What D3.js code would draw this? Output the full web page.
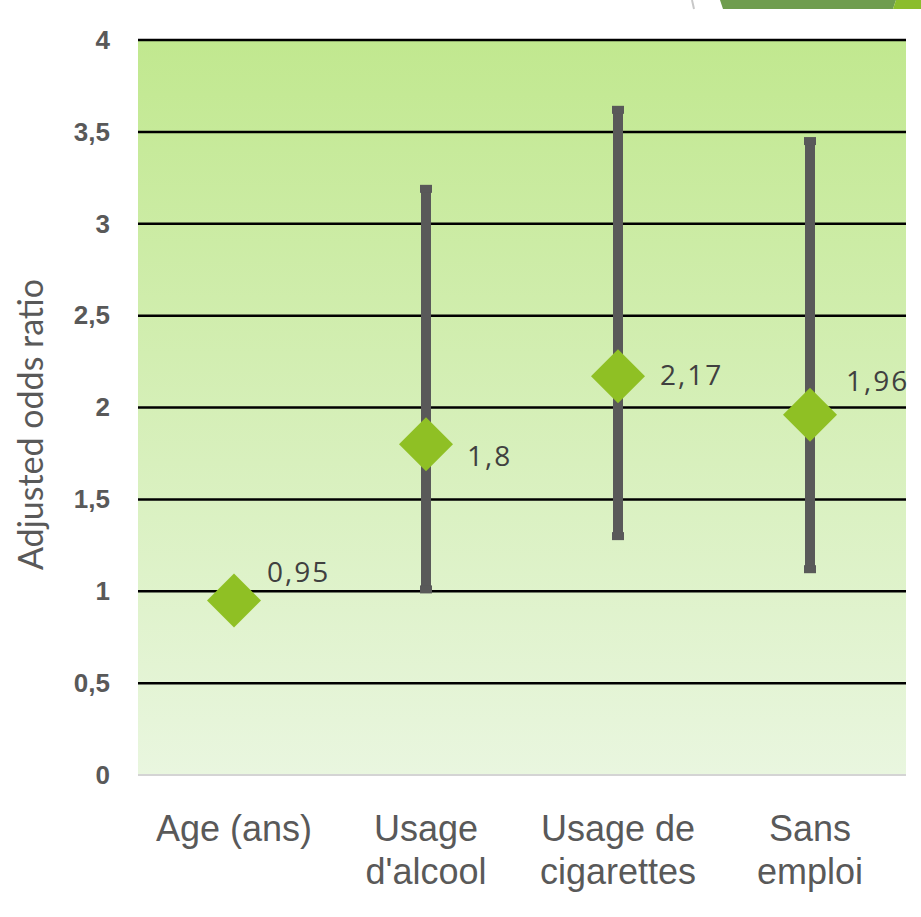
<!DOCTYPE html>
<html>
<head>
<meta charset="utf-8">
<script src="https://cdn.jsdelivr.net/npm/d3@7"></script>
<style>
  body { margin: 0; background: #fff; }
  svg { display: block; }
</style>
</head>
<body>
<div id="chart"></div>
<script>
// data
const categories = [["Age (ans)"], ["Usage", "d'alcool"], ["Usage de", "cigarettes"], ["Sans", "emploi"]];
const oddsRatios = [0.95, 1.8, 2.17, 1.96];
const ciLow = [null, 1.01, 1.30, 1.12];
const ciHigh = [null, 3.19, 3.62, 3.45];
const pointLabels = ["0,95", "1,8", "2,17", "1,96"];
const yTicks = [0, 0.5, 1, 1.5, 2, 2.5, 3, 3.5, 4];

// label offsets (x, baseline) from the point, placed by hand in the original
const labelOffsets = [[33, -18], [41, 22], [42, 9], [36, -24]];

const W = 921, H = 917;
const margin = { top: 40, right: 15, bottom: 142, left: 138 };
const width = W - margin.left - margin.right;
const height = H - margin.top - margin.bottom;

const svg = d3.select("#chart").append("svg")
  .attr("width", W)
  .attr("height", H);

// slide decoration in the top right corner
svg.append("line")
  .attr("x1", 692).attr("y1", 0).attr("x2", 694).attr("y2", 9)
  .attr("stroke", "#c8c8c8").attr("stroke-width", 2);
svg.append("polygon")
  .attr("points", "720,0 896,0 893,9 723,9")
  .attr("fill", "#6f9d4e");
svg.append("polygon")
  .attr("points", "896,0 921,0 921,9 893,9")
  .attr("fill", "#8bbd2c");

const defs = svg.append("defs");
const grad = defs.append("linearGradient")
  .attr("id", "bg").attr("x1", 0).attr("y1", 0).attr("x2", 0).attr("y2", 1);
grad.append("stop").attr("offset", "0%").attr("stop-color", "#c1e88f");
grad.append("stop").attr("offset", "100%").attr("stop-color", "#e9f6df");

const g = svg.append("g")
  .attr("transform", `translate(${margin.left},${margin.top})`);

const x = d3.scaleBand()
  .domain(d3.range(categories.length))
  .range([0, width])
  .padding(0);

const y = d3.scaleLinear()
  .domain([0, 4])
  .range([height, 0]);

g.append("rect")
  .attr("width", width)
  .attr("height", height)
  .attr("fill", "url(#bg)");

// grid lines
g.selectAll(".grid")
  .data(yTicks)
  .enter().append("line")
  .attr("class", "grid")
  .attr("x1", 0).attr("x2", width)
  .attr("y1", d => y(d)).attr("y2", d => y(d))
  .attr("stroke", d => d === 0 ? "#d4d4d4" : "#000")
  .attr("stroke-width", d => d === 0 ? 2 : 2.5);

// y axis tick labels
const yAxis = g.append("g")
  .call(d3.axisLeft(y).tickValues(yTicks).tickSize(0).tickPadding(28)
    .tickFormat(d => String(d).replace(".", ",")));
yAxis.select(".domain").remove();
yAxis.selectAll("text")
  .attr("font-family", "Liberation Sans, Arial, sans-serif")
  .attr("font-size", 26)
  .attr("font-weight", "bold")
  .attr("fill", "#595959");

// y axis title
svg.append("text")
  .attr("transform", `translate(43,${margin.top + height / 2 + 17}) rotate(-90)`)
  .attr("text-anchor", "middle")
  .attr("font-family", "Lato, Open Sans, sans-serif")
  .attr("font-size", 34)
  .attr("fill", "#595959")
  .text("Adjusted odds ratio");

// x category labels
const xl = g.selectAll(".xlab")
  .data(categories)
  .enter().append("text")
  .attr("class", "xlab")
  .attr("x", (d, i) => x(i) + x.bandwidth() / 2)
  .attr("y", height + 66)
  .attr("text-anchor", "middle")
  .attr("font-family", "Liberation Sans, Arial, sans-serif")
  .attr("font-size", 36)
  .attr("fill", "#595959");
xl.selectAll("tspan")
  .data(d => d)
  .enter().append("tspan")
  .attr("x", function () { return this.parentNode.getAttribute("x"); })
  .attr("dy", (d, i) => i === 0 ? 0 : 43)
  .text(d => d);

// error bars
const ci = d3.range(categories.length).filter(i => ciLow[i] !== null);
const cx = i => x(i) + x.bandwidth() / 2;

g.selectAll(".ci")
  .data(ci)
  .enter().append("line")
  .attr("class", "ci")
  .attr("x1", cx).attr("x2", cx)
  .attr("y1", i => y(ciHigh[i])).attr("y2", i => y(ciLow[i]))
  .attr("stroke", "#595959")
  .attr("stroke-width", 10);

["high", "low"].forEach(end => {
  g.selectAll(".cap-" + end)
    .data(ci)
    .enter().append("rect")
    .attr("x", i => cx(i) - 6)
    .attr("y", i => y(end === "high" ? ciHigh[i] : ciLow[i]) - 4)
    .attr("width", 12)
    .attr("height", 8)
    .attr("fill", "#595959");
});

// diamonds
g.selectAll(".pt")
  .data(oddsRatios)
  .enter().append("path")
  .attr("class", "pt")
  .attr("transform", (d, i) => `translate(${cx(i)},${y(d)})`)
  .attr("d", "M0,-27L27,0L0,27L-27,0Z")
  .attr("fill", "#8fc024");

// point labels
g.selectAll(".plab")
  .data(pointLabels)
  .enter().append("text")
  .attr("class", "plab")
  .attr("x", (d, i) => cx(i) + labelOffsets[i][0])
  .attr("y", (d, i) => y(oddsRatios[i]) + labelOffsets[i][1])
  .attr("font-family", "Open Sans, sans-serif")
  .attr("font-size", 28)
  .attr("letter-spacing", 2)
  .attr("fill", "#404040")
  .text(d => d);
</script>
</body>
</html>
